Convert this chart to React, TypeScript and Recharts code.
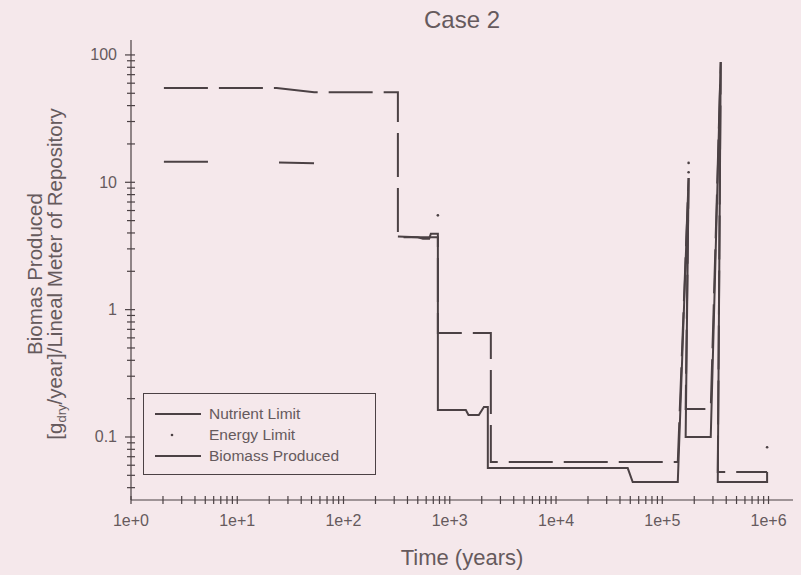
import React from "react";
import { LineChart, Line, XAxis, YAxis, Legend } from "recharts";

const ink = "#4b4144";
const textInk = "#665a5d";
const bg = "#f5e8eb";
const font = '"Liberation Sans", Arial, sans-serif';

// axis ticks (log decades + minor steps)
const xDecades = [1, 10, 100, 1000, 1e4, 1e5, 1e6];
const xDecadeLabels = ["1e+0", "1e+1", "1e+2", "1e+3", "1e+4", "1e+5", "1e+6"];
const yDecades = [0.1, 1, 10, 100];
const yDecadeLabels = ["0.1", "1", "10", "100"];
const minorSteps = [2, 3, 4, 5, 6, 7, 8, 9];
const legendOrder = ["Nutrient Limit", "Energy Limit", "Biomass Produced"];

const xTicks = [...xDecades, ...xDecades.slice(0, -1).flatMap((d) => minorSteps.map((m) => d * m))].sort((a, b) => a - b);
const yTicks = [...yDecades, ...[0.01, 0.1, 1, 10].flatMap((d) => minorSteps.map((m) => d * m))]
  .filter((v) => v > 0.032 && v < 131)
  .sort((a, b) => a - b);

// Nutrient limit (long dashes)
const nutrientT = [2.04, 23.5, 53, 325, 325, 773, 773, 2436, 2436, 1.4e5, 1.77e5, 1.66e5, 2.86e5, 3.55e5, 3.33e5, 9.7e5];
const nutrientV = [55, 55, 51, 51, 3.7, 3.7, 0.655, 0.655, 0.0635, 0.0635, 10.8, 0.166, 0.166, 88, 0.053, 0.053];

// Energy limit (sparse dots)
const energyT = [773, 1.77e5, 1.77e5, 9.7e5];
const energyV = [5.5, 14.2, 12.0, 0.083];

// Biomass produced (solid)
const biomassT = [
  2.04, 5.3, 10, 24.7, 52.8, 150, 325, 500, 560, 640, 664, 773, 773, 1417, 1500, 1878, 2096, 2282, 2282,
  4.73e4, 5.27e4, 1.4e5, 1.77e5, 1.66e5, 2.86e5, 3.55e5, 3.33e5, 9.7e5, 9.7e5,
];
const biomassV = [
  14.5, 14.5, null, 14.3, 14.1, null, 3.75, 3.7, 3.6, 3.6, 3.95, 3.95, 0.163, 0.163, 0.149, 0.149, 0.172, 0.172, 0.057,
  0.057, 0.0443, 0.0443, 10.8, 0.1, 0.1, 88, 0.0443, 0.0443, 0.053,
];

const toRows = (ts: number[], vs: (number | null)[]) => ts.map((t, i) => ({ t, v: vs[i] }));
const nutrient = toRows(nutrientT, nutrientV);
const energy = toRows(energyT, energyV);
const biomass = toRows(biomassT, biomassV);

const XTick = ({ x, y, payload }: any) => {
  const i = xDecades.indexOf(payload.value);
  return (
    <g>
      <line x1={x} x2={x} y1={y - 4} y2={y + 4} stroke={ink} strokeWidth={1.2} />
      {i >= 0 && (
        <text x={x} y={y + 26} textAnchor="middle" fontSize={16} fontFamily={font} fill={textInk}>
          {xDecadeLabels[i]}
        </text>
      )}
    </g>
  );
};

const YTick = ({ x, y, payload }: any) => {
  const i = yDecades.indexOf(payload.value);
  return (
    <g>
      <line x1={x - (i >= 0 ? 6 : 4)} x2={x + 4} y1={y} y2={y} stroke={ink} strokeWidth={1.2} />
      {i >= 0 && (
        <text x={x - 14} y={y} textAnchor="end" dominantBaseline="central" fontSize={16} fontFamily={font} fill={textInk}>
          {yDecadeLabels[i]}
        </text>
      )}
    </g>
  );
};

const YTitle = () => (
  <g fontFamily={font} fontSize={20.5} fill={textInk}>
    <text transform="translate(42,274) rotate(-90)" textAnchor="middle">
      Biomas Produced
    </text>
    <text transform="translate(62,274) rotate(-90)" textAnchor="middle">
      [g
      <tspan fontSize={13} dy={4}>dry</tspan>
      <tspan dy={-4}>/year]/Lineal Meter of Repository</tspan>
    </text>
  </g>
);

const LegendBox = ({ payload }: any) => {
  const items = [...(payload || [])].sort((a: any, b: any) => legendOrder.indexOf(a.value) - legendOrder.indexOf(b.value));
  return (
    <div
      style={{
        border: `1px solid ${ink}`,
        width: 233,
        height: 82,
        boxSizing: "border-box",
        padding: "9px 0 0 11px",
        fontFamily: font,
        fontSize: 15.5,
        color: textInk,
        lineHeight: "21px",
      }}
    >
      {items.map((p: any) => (
        <div key={p.value} style={{ display: "flex", alignItems: "center", height: 21 }}>
          <svg width={46} height={10}>
            {p.value === "Energy Limit" ? (
              <circle cx={17} cy={5} r={1.3} fill={ink} />
            ) : (
              <line x1={0} x2={46} y1={5} y2={5} stroke={ink} strokeWidth={2} />
            )}
          </svg>
          <span style={{ marginLeft: 8 }}>{p.value}</span>
        </div>
      ))}
    </div>
  );
};

export default function App() {
  return (
    <div style={{ position: "absolute", left: 0, top: 0, width: 801, height: 575, background: bg }}>
      <div
        style={{
          position: "absolute",
          top: 5,
          left: 131,
          width: 662,
          textAlign: "center",
          fontFamily: font,
          fontSize: 24,
          lineHeight: "29px",
          color: textInk,
        }}
      >
        Case 2
      </div>
      <LineChart width={801} height={575} margin={{ top: 40, right: 8, bottom: 0, left: 0 }}>
        <XAxis
          dataKey="t"
          type="number"
          scale="log"
          domain={[1, 1.7e6]}
          allowDataOverflow
          ticks={xTicks}
          interval={0}
          tick={<XTick />}
          tickLine={false}
          tickSize={0}
          tickMargin={0}
          height={75}
          axisLine={{ stroke: ink, strokeWidth: 1.2 }}
          label={{ value: "Time (years)", position: "insideBottom", offset: 10, fontSize: 22, fontFamily: font, fill: textInk }}
        />
        <XAxis xAxisId="top" orientation="top" type="number" domain={[0, 1]} height={0} tick={false} tickLine={false} axisLine={{ stroke: ink, strokeWidth: 1 }} />
        <YAxis
          dataKey="v"
          type="number"
          scale="log"
          domain={[0.032, 131]}
          allowDataOverflow
          ticks={yTicks}
          interval={0}
          tick={<YTick />}
          tickLine={false}
          tickSize={0}
          tickMargin={0}
          width={131}
          axisLine={{ stroke: ink, strokeWidth: 1.2 }}
          label={<YTitle />}
        />
        <YAxis yAxisId="right" orientation="right" type="number" domain={[0, 1]} width={0} tick={false} tickLine={false} axisLine={{ stroke: ink, strokeWidth: 1 }} />
        <Legend
          content={<LegendBox />}
          layout="horizontal"
          verticalAlign="middle"
          align="center"
          wrapperStyle={{ left: 143, top: 393, width: 233, height: 82 }}
        />
        <Line
          data={nutrient}
          dataKey="v"
          name="Nutrient Limit"
          type="linear"
          stroke={ink}
          strokeWidth={2}
          strokeDasharray="44 11"
          dot={false}
          activeDot={false}
          isAnimationActive={false}
        />
        <Line
          data={energy}
          dataKey="v"
          name="Energy Limit"
          type="linear"
          stroke="none"
          strokeWidth={0}
          dot={{ r: 1.3, fill: ink, stroke: "none" }}
          activeDot={false}
          isAnimationActive={false}
        />
        <Line
          data={biomass}
          dataKey="v"
          name="Biomass Produced"
          type="linear"
          stroke={ink}
          strokeWidth={2}
          dot={false}
          activeDot={false}
          isAnimationActive={false}
        />
      </LineChart>
    </div>
  );
}
